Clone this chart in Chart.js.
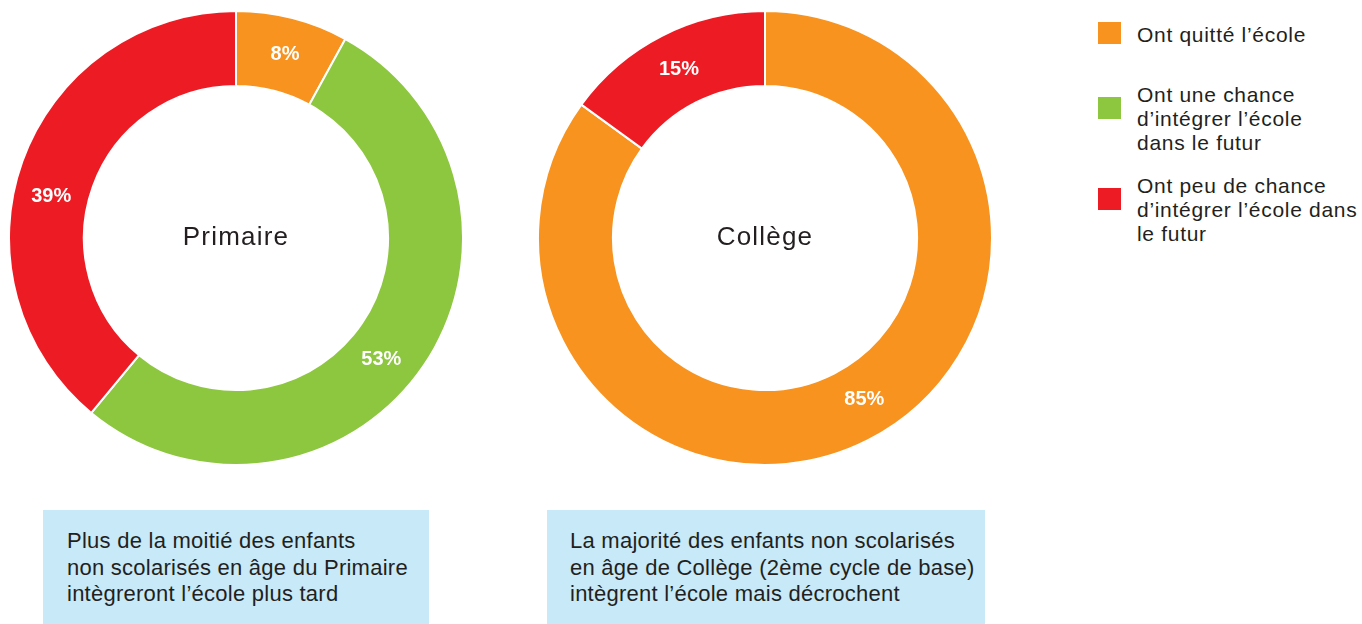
<!DOCTYPE html>
<html>
<head>
<meta charset="utf-8">
<script src="https://cdn.jsdelivr.net/npm/chart.js@4.4.1/dist/chart.umd.min.js"></script>
<style>
  body { margin: 0; background: #fff; font-family: "Liberation Sans", Arial, sans-serif; color: #231f20; }
  #wrap { position: relative; width: 1362px; height: 624px; overflow: hidden; }
  canvas { position: absolute; }
  .box { position: absolute; top: 510px; height: 114px; background: #c7e9f8; box-sizing: border-box;
         padding-top: 18px; font-size: 22px; line-height: 26.5px; letter-spacing: 0.25px; }
  .key { position: absolute; left: 1098px; width: 23px; height: 22px; }
  .lbl { position: absolute; left: 1137px; font-size: 21px; line-height: 24px; letter-spacing: 0.7px; }
</style>
</head>
<body>
<div id="wrap">
  <canvas id="chartPrimaire" width="456" height="456" style="left:8px;top:10px"></canvas>
  <canvas id="chartCollege" width="456" height="456" style="left:537px;top:10px"></canvas>
  <div id="legend"></div>
  <div class="box" style="left:43px;width:386px;padding-left:24px">Plus de la moitié des enfants<br>non scolarisés en âge du Primaire<br>intègreront l’école plus tard</div>
  <div class="box" style="left:547px;width:438px;padding-left:23px">La majorité des enfants non scolarisés<br>en âge de Collège (2ème cycle de base)<br>intègrent l’école mais décrochent</div>
</div>
<script>
const categories = ['Ont quitté l’école', 'Ont une chance d’intégrer l’école dans le futur', 'Ont peu de chance d’intégrer l’école dans le futur'];
const legendLines = [
    ['Ont quitté l’école'],
    ['Ont une chance', 'd’intégrer l’école', 'dans le futur'],
    ['Ont peu de chance', 'd’intégrer l’école dans', 'le futur']
];
const colors = ['#f7931e', '#8dc63f', '#ed1c24'];
const primaireValues = [8, 53, 39];
const collegeValues = [85, 0, 15];
// where along each slice the percent label sits (0 = start, 1 = end)
const primaireLabelAt = [0.52, 0.53, 0.45];
const collegeLabelAt = [0.485, 0.5, 0.5];

const sliceLabels = {
    id: 'sliceLabels',
    afterDatasetsDraw(chart, args, opts) {
        const ctx = chart.ctx;
        const meta = chart.getDatasetMeta(0);
        const values = chart.data.datasets[0].data;
        ctx.save();
        ctx.textAlign = 'center';
        ctx.textBaseline = 'middle';
        ctx.fillStyle = '#fff';
        ctx.font = 'bold 20px "Liberation Sans", Arial, sans-serif';
        let cx = 0, cy = 0;
        meta.data.forEach((arc, i) => {
            const p = arc.getProps(['x', 'y', 'startAngle', 'endAngle', 'innerRadius', 'outerRadius'], true);
            cx = p.x; cy = p.y;
            if (!values[i]) return;
            const a = p.startAngle + (p.endAngle - p.startAngle) * opts.labelAt[i];
            const r = (p.innerRadius + p.outerRadius) / 2;
            ctx.fillText(values[i] + '%', p.x + Math.cos(a) * r, p.y + Math.sin(a) * r);
        });
        ctx.fillStyle = '#231f20';
        ctx.font = '26px "Liberation Sans", Arial, sans-serif';
        ctx.letterSpacing = '1.2px';
        ctx.fillText(opts.title, cx, cy);
        ctx.restore();
    }
};

function makeDonut(id, values, title, labelAt) {
    return new Chart(document.getElementById(id), {
        type: 'doughnut',
        data: {
            labels: categories,
            datasets: [{
                data: values,
                backgroundColor: colors,
                borderColor: '#fff',
                borderWidth: 2
            }]
        },
        options: {
            responsive: false,
            animation: false,
            cutout: '67%',
            layout: { padding: 0 },
            plugins: {
                legend: { display: false },
                tooltip: { enabled: false },
                sliceLabels: { title: title, labelAt: labelAt }
            }
        },
        plugins: [sliceLabels]
    });
}

makeDonut('chartPrimaire', primaireValues, 'Primaire', primaireLabelAt);
makeDonut('chartCollege', collegeValues, 'Collège', collegeLabelAt);

// legend
const keyTops = [22, 97, 188];
const textTops = [23, 83, 174];
const legend = document.getElementById('legend');
legendLines.forEach((lines, i) => {
    const k = document.createElement('div');
    k.className = 'key';
    k.style.top = keyTops[i] + 'px';
    k.style.background = colors[i];
    legend.appendChild(k);
    const t = document.createElement('div');
    t.className = 'lbl';
    t.style.top = textTops[i] + 'px';
    t.innerHTML = lines.join('<br>');
    legend.appendChild(t);
});
</script>
</body>
</html>
